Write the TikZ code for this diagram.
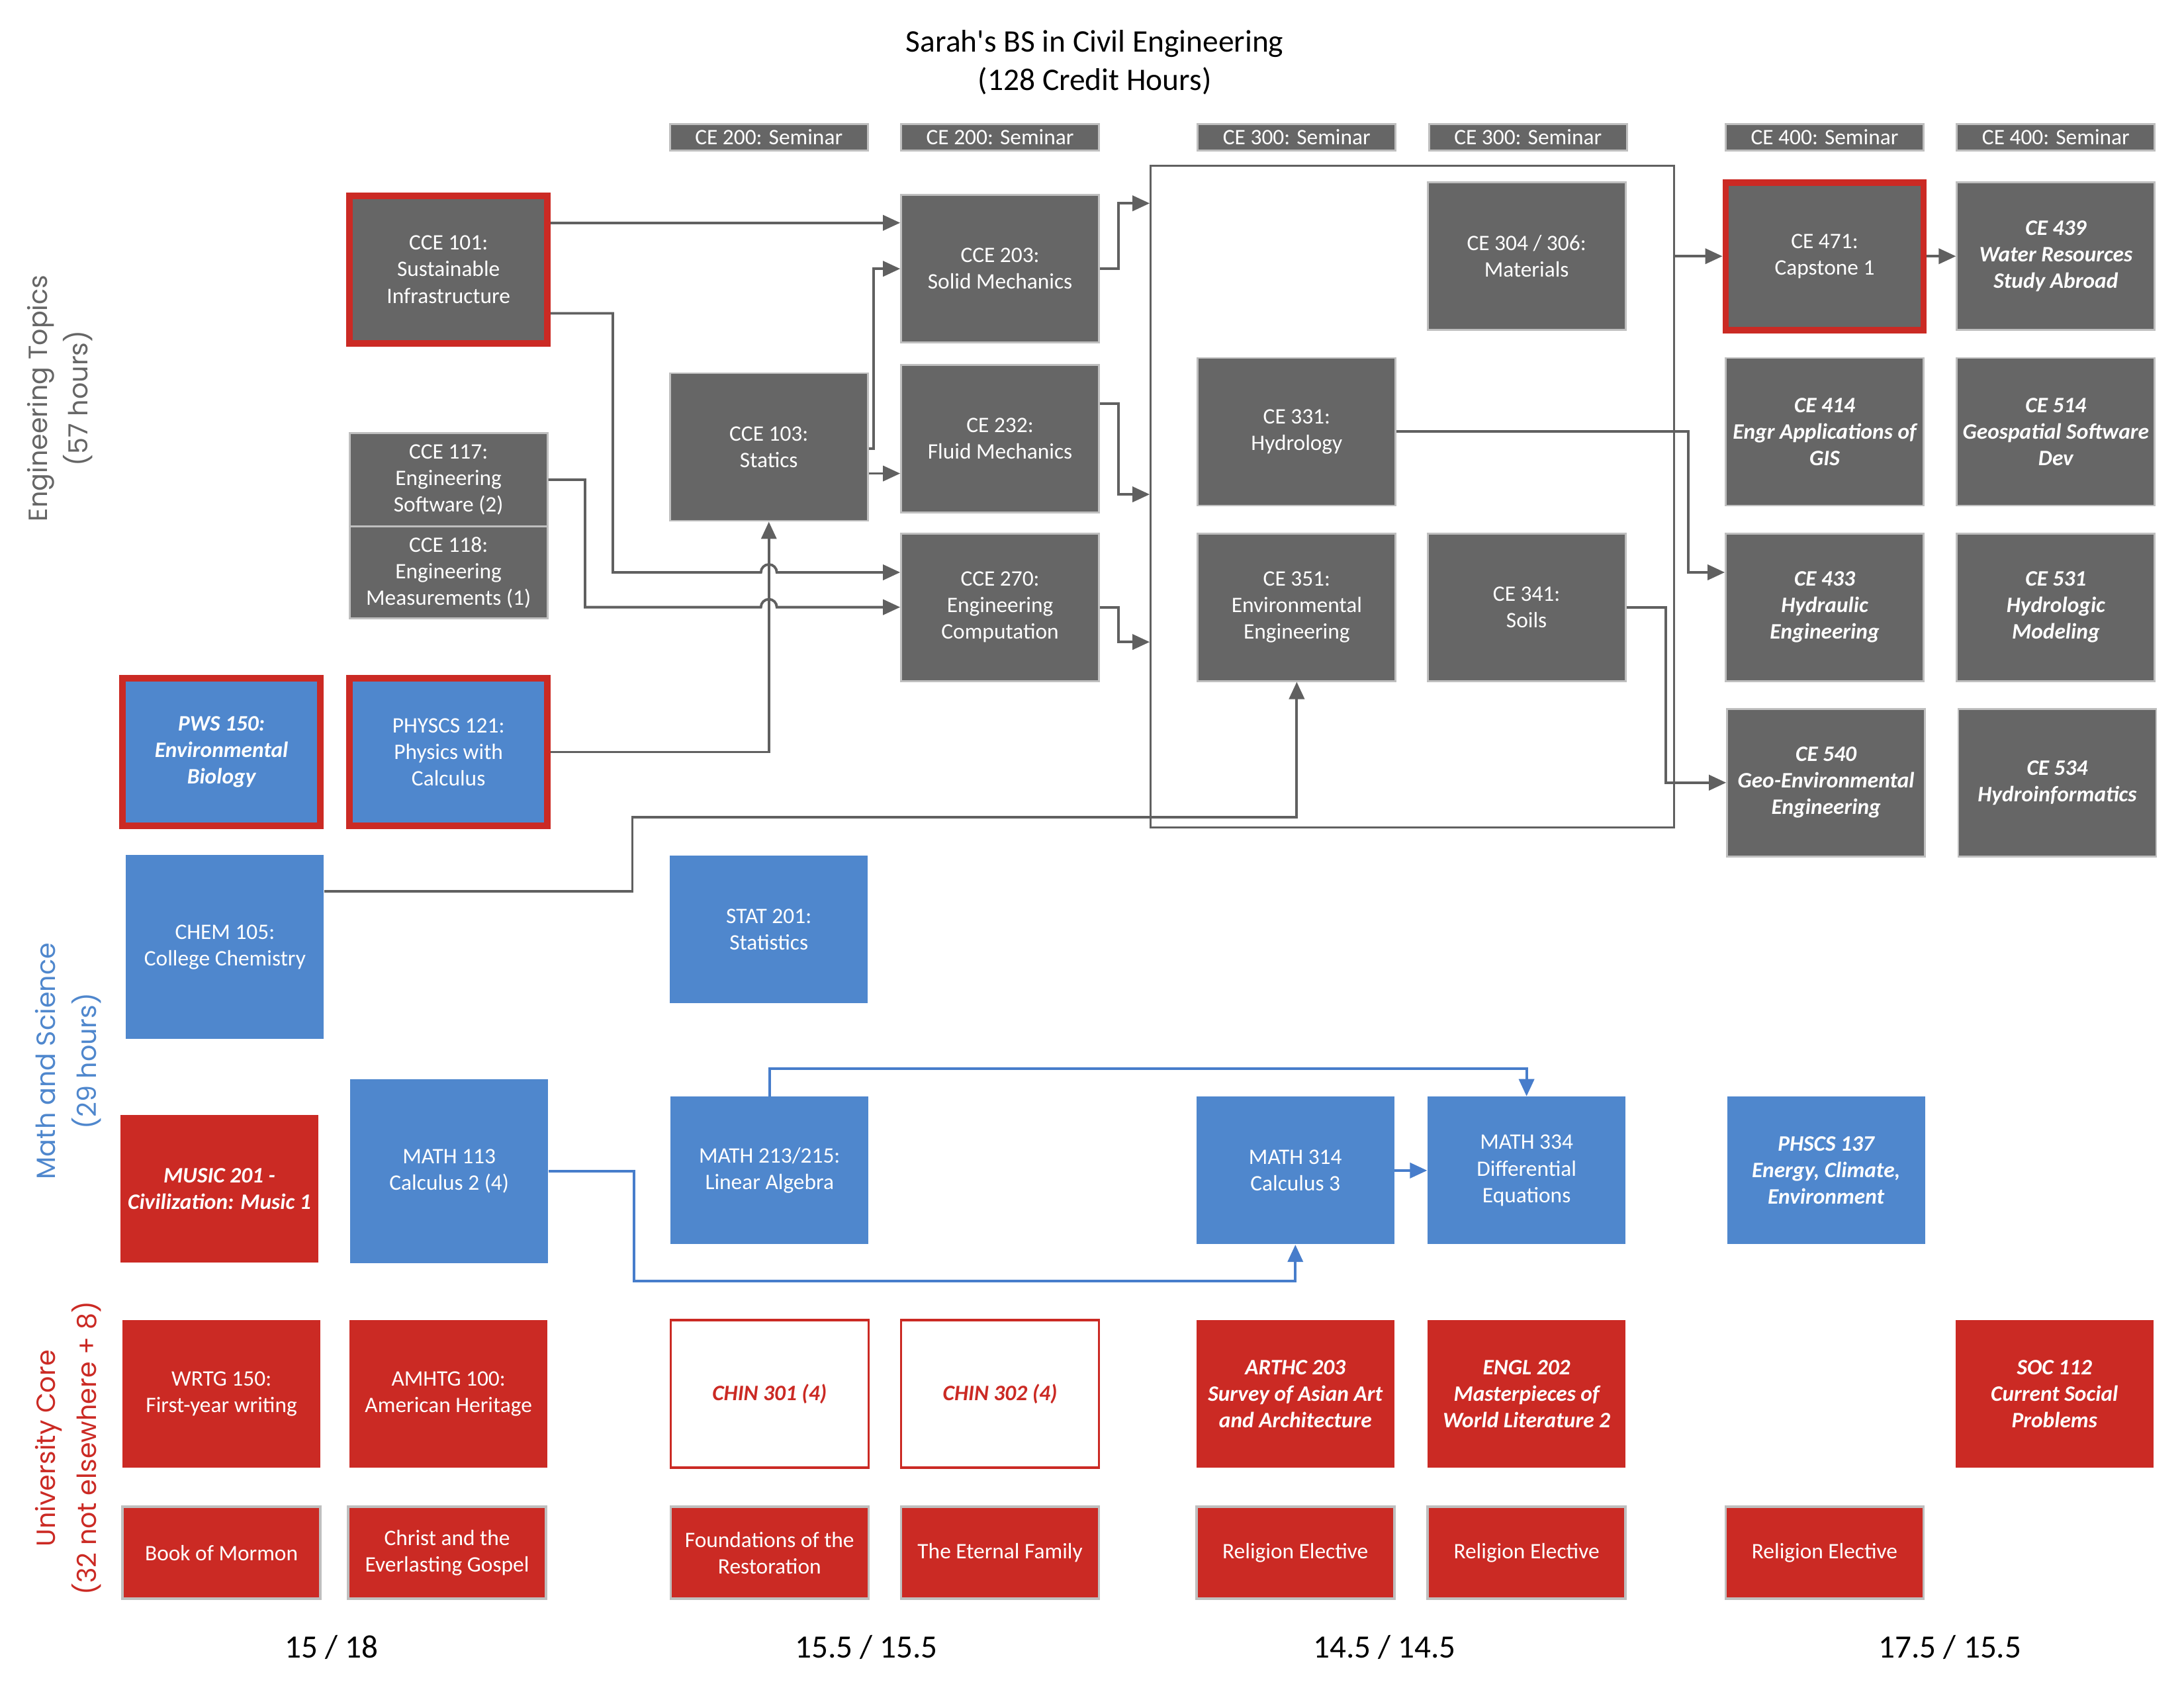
\documentclass[tikz,border=0pt]{standalone}
\usepackage{fontspec}
\setmainfont{Carlito}
\newfontfamily\titlefont{Carlito}
\newfontfamily\sidefont{Poppins}
\usetikzlibrary{arrows.meta,calc}

\definecolor{boxgray}{RGB}{102,102,102}
\definecolor{edgegray}{RGB}{191,191,191}
\definecolor{linegray}{RGB}{96,96,96}
\definecolor{mathblue}{RGB}{79,135,205}
\definecolor{linkblue}{RGB}{71,125,203}
\definecolor{corered}{RGB}{203,42,36}

\tikzset{
  course/.style={minimum width=29.9mm, minimum height=22.3mm, align=center, text=white,
    inner sep=1pt, font=\fontsize{9.5}{11.4}\selectfont},
  eng/.style={course, fill=boxgray, draw=edgegray, line width=0.8pt},
  sci/.style={course, fill=mathblue},
  core/.style={course, fill=corered},
  relig/.style={core, draw=edgegray, line width=1pt, minimum height=13.9mm},
  seminar/.style={eng, minimum height=4mm},
  required/.style={draw=corered, line width=2.8pt},
  elective/.style={font=\fontsize{9.5}{11.4}\selectfont\bfseries\itshape},
  arr/.style={draw=linegray, line width=1.1pt, -{Triangle[length=2.6mm,width=2.3mm]}},
  marr/.style={arr, draw=linkblue},
  total/.style={font=\fontsize{14}{16}\selectfont},
  side/.style={rotate=90, align=center, font=\fontsize{11.3}{17.5}\sidefont},
}

\begin{document}
\begin{tikzpicture}[x=0.21046mm, y=-0.21046mm]
    \useasboundingbox (0,0) rectangle (1568,1212);

    % title
    \node[align=center, font=\fontsize{13.5}{16.5}\titlefont] (title) at (786,45)
        {Sarah's BS in Civil Engineering\\(128 Credit Hours)};

    % side labels
    \node[side, text=boxgray] (lbleng) at (43,286) {Engineering Topics\\(57 hours)};
    \node[side, text=mathblue] (lblsci) at (49,762) {Math and Science\\(29 hours)};
    \node[side, text=corered] (lblcore) at (49,1040) {University Core\\(32 not elsewhere + 8)};

    % seminars
    \node[seminar] (sem1) at (552,98.5) {CE 200: Seminar};
    \node[seminar] (sem2) at (718,98.5) {CE 200: Seminar};
    \node[seminar] (sem3) at (931,98.5) {CE 300: Seminar};
    \node[seminar] (sem4) at (1097,98.5) {CE 300: Seminar};
    \node[seminar] (sem5) at (1310,98.5) {CE 400: Seminar};
    \node[seminar] (sem6) at (1476,98.5) {CE 400: Seminar};

    % 300-level block
    \node[draw=linegray, line width=0.8pt, minimum width=79.1mm, minimum height=100mm] (block) at (1014,356.5) {};

    % engineering topics
    \node[eng, required] (cce101) at (322,193.5) {CCE 101:\\Sustainable\\Infrastructure};
    \node[eng, minimum height=14.1mm] (cce117) at (322,344.5) {CCE 117:\\Engineering\\Software (2)};
    \node[eng, minimum height=13.9mm] (cce118) at (322,411) {CCE 118:\\Engineering\\Measurements (1)};
    \node[eng] (cce103) at (552,321) {CCE 103:\\Statics};
    \node[eng] (cce203) at (718,193) {CCE 203:\\Solid Mechanics};
    \node[eng] (ce232) at (718,315) {CE 232:\\Fluid Mechanics};
    \node[eng] (cce270) at (718,436) {CCE 270:\\Engineering\\Computation};
    \node[eng] (ce304) at (1096,184) {CE 304 / 306:\\Materials};
    \node[eng] (ce331) at (931,310) {CE 331:\\Hydrology};
    \node[eng] (ce351) at (931,436) {CE 351:\\Environmental\\Engineering};
    \node[eng] (ce341) at (1096,436) {CE 341:\\Soils};
    \node[eng, required] (ce471) at (1310,184) {CE 471:\\Capstone 1};
    \node[eng, elective] (ce439) at (1476,184) {CE 439\\Water Resources\\Study Abroad};
    \node[eng, elective] (ce414) at (1310,310) {CE 414\\Engr Applications of\\GIS};
    \node[eng, elective] (ce514) at (1476,310) {CE 514\\Geospatial Software\\Dev};
    \node[eng, elective] (ce433) at (1310,436) {CE 433\\Hydraulic\\Engineering};
    \node[eng, elective] (ce531) at (1476,436) {CE 531\\Hydrologic\\Modeling};
    \node[eng, elective] (ce540) at (1311,562) {CE 540\\Geo-Environmental\\Engineering};
    \node[eng, elective] (ce534) at (1477,562) {CE 534\\Hydroinformatics};

    % math and science
    \node[sci, required, elective] (pws150) at (159,540) {PWS 150:\\Environmental\\Biology};
    \node[sci, required] (physcs121) at (322,540) {PHYSCS 121:\\Physics with\\Calculus};
    \node[sci, minimum height=27.8mm] (chem105) at (161.5,680) {CHEM 105:\\College Chemistry};
    \node[sci] (stat201) at (552,667.5) {STAT 201:\\Statistics};
    \node[core, elective] (music201) at (157.5,853.5) {MUSIC 201 -\\Civilization: Music 1};
    \node[sci, minimum height=27.8mm] (math113) at (322.5,841) {MATH 113\\Calculus 2 (4)};
    \node[sci] (math213) at (552.5,840.5) {MATH 213/215:\\Linear Algebra};
    \node[sci] (math314) at (930,840.5) {MATH 314\\Calculus 3};
    \node[sci] (math334) at (1096,840.5) {MATH 334\\Differential\\Equations};
    \node[sci, elective] (phscs137) at (1311,840.5) {PHSCS 137\\Energy, Climate,\\Environment};

    % university core
    \node[core] (wrtg150) at (159,1001) {WRTG 150:\\First-year writing};
    \node[core] (amhtg100) at (322,1001) {AMHTG 100:\\American Heritage};
    \node[core, elective, fill=white, draw=corered, line width=1pt, text=corered] (chin301) at (552.5,1001) {CHIN 301 (4)};
    \node[core, elective, fill=white, draw=corered, line width=1pt, text=corered] (chin302) at (718,1001) {CHIN 302 (4)};
    \node[core, elective] (arthc203) at (930,1001) {ARTHC 203\\Survey of Asian Art\\and Architecture};
    \node[core, elective] (engl202) at (1096,1001) {ENGL 202\\Masterpieces of\\World Literature 2};
    \node[core, elective] (soc112) at (1475,1001) {SOC 112\\Current Social\\Problems};

    % religion
    \node[relig] (rel1) at (159,1115) {Book of Mormon};
    \node[relig] (rel2) at (321,1115) {Christ and the\\Everlasting Gospel};
    \node[relig] (rel3) at (552.5,1115) {Foundations of the\\Restoration};
    \node[relig] (rel4) at (718,1115) {The Eternal Family};
    \node[relig] (rel5) at (930,1115) {Religion Elective};
    \node[relig] (rel6) at (1096,1115) {Religion Elective};
    \node[relig] (rel7) at (1310,1115) {Religion Elective};

    % credit totals
    \node[total] (tot1) at (238,1183) {15 / 18};
    \node[total] (tot2) at (622,1183) {15.5 / 15.5};
    \node[total] (tot3) at (994,1183) {14.5 / 14.5};
    \node[total] (tot4) at (1400,1183) {17.5 / 15.5};

    % prerequisites
    \draw[arr] (cce101.east |- 0,160) -- (cce203.west |- 0,160);
    \draw[arr] (cce101.east |- 0,225) -- (440,225) -- (440,411)
        -- ($(cce103.south |- 0,411)+(-1.2mm,0)$) arc[start angle=180, end angle=0, radius=1.2mm]
        -- (cce270.west |- 0,411);
    \draw[arr] (cce117.east) -- (420,344.5) -- (420,436)
        -- ($(cce103.south |- 0,436)+(-1.2mm,0)$) arc[start angle=180, end angle=0, radius=1.2mm]
        -- (cce270.west);
    \draw[arr] (physcs121.east) -| (cce103.south);
    \draw[arr] (cce103.east |- 0,322) -- (627,322) |- (cce203.west);
    \draw[arr] (cce103.east |- 0,340) -- (ce232.west |- 0,340);
    \draw[arr] (cce203.east) -- (803,193) |- (block.west |- 0,146);
    \draw[arr] (ce232.east |- 0,290) -- (803,290) |- (block.west |- 0,355);
    \draw[arr] (cce270.east) -- (803,436) |- (block.west |- 0,461);
    \draw[arr] (chem105.east |- 0,640) -| (454,587) -| (ce351.south);
    \draw[arr] (ce331.east) -- (1212,310) |- (ce433.west |- 0,411);
    \draw[arr] (ce341.east) -- (1196,436) |- (ce540.west);
    \draw[arr] (block.east |- ce471.west) -- (ce471.west);
    \draw[arr] (ce471.east) -- (ce439.west);
    \draw[marr] (math213.north) -- ++(0,-20) -| (math334.north);
    \draw[marr] (math113.east) -| (455,920) -| (math314.south);
    \draw[marr] (math314.east) -- (math334.west);
\end{tikzpicture}
\end{document}
